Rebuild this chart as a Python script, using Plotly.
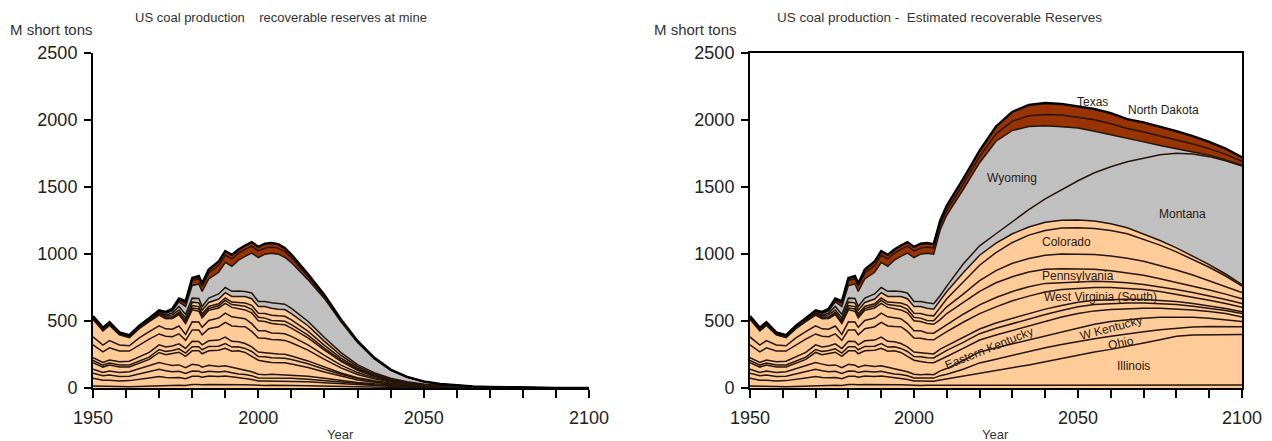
import plotly.graph_objects as go

W, H = 1272, 441

hist_years = [1950, 1953, 1955, 1958, 1961, 1964, 1967, 1970, 1972, 1974, 1976, 1978, 1980,
              1982, 1983, 1985, 1988, 1990, 1992, 1994, 1996, 1998, 2000, 2002, 2004, 2006]
proj_years = [2008, 2010, 2015, 2020, 2025, 2030, 2035, 2040, 2045, 2050,
              2055, 2060, 2065, 2070, 2075, 2080, 2085, 2090, 2095, 2100]

# ---- production history by state, M short tons (bottom of stack first) ----
alabama_hist = [15, 12, 13, 11, 10, 12, 14, 20, 18, 19, 21, 19, 26, 26, 24, 27, 27, 29, 26, 24, 24, 23, 19, 19, 21, 19]
illinois_hist = [57, 46, 45, 42, 45, 55, 60, 65, 60, 58, 57, 50, 62, 62, 57, 62, 58, 60, 58, 52, 47, 40, 33, 33, 31, 32]
ohio_hist = [38, 33, 38, 33, 32, 38, 44, 55, 50, 45, 46, 40, 39, 37, 34, 36, 34, 35, 30, 28, 29, 28, 22, 21, 23, 23]
wky_hist = [30, 25, 30, 30, 35, 40, 45, 50, 50, 45, 48, 42, 50, 45, 40, 45, 42, 42, 40, 38, 35, 30, 28, 25, 27, 25]
eky_hist = [48, 40, 45, 40, 35, 40, 50, 75, 70, 90, 95, 85, 100, 108, 100, 108, 120, 130, 120, 135, 130, 115, 105, 100, 88, 90]
indiana_hist = [18, 15, 16, 15, 15, 16, 17, 22, 25, 23, 25, 24, 30, 30, 30, 32, 31, 36, 31, 30, 30, 36, 28, 35, 35, 35]
virginia_hist = [20, 19, 22, 25, 28, 32, 35, 35, 33, 33, 37, 35, 41, 39, 37, 42, 45, 47, 43, 37, 37, 35, 33, 30, 31, 30]
wvs_hist = [95, 80, 90, 80, 75, 90, 100, 81, 80, 70, 75, 60, 85, 85, 75, 90, 100, 110, 115, 115, 125, 115, 105, 108, 105, 105]
wvn_hist = [60, 50, 55, 45, 40, 50, 55, 60, 55, 55, 58, 45, 60, 60, 55, 62, 65, 70, 68, 65, 60, 58, 53, 55, 50, 50]
penn_hist = [130, 105, 113, 75, 60, 70, 75, 80, 75, 80, 85, 80, 90, 80, 70, 75, 75, 72, 70, 65, 65, 80, 75, 70, 70, 66]
utah_hist = [6, 6, 6, 5, 5, 5, 5, 5, 5, 6, 8, 10, 13, 17, 14, 13, 16, 22, 21, 24, 27, 26, 27, 25, 22, 26]
colorado_hist = [4, 4, 4, 3, 3, 4, 5, 6, 6, 7, 9, 12, 19, 18, 17, 16, 15, 18, 19, 25, 25, 30, 29, 35, 40, 37]
nm_hist = [3, 3, 3, 3, 3, 4, 5, 8, 10, 14, 18, 20, 25, 28, 27, 30, 35, 40, 42, 45, 48, 50, 50, 52, 52, 50]
montana_hist = [3, 3, 2, 1, 1, 1, 1, 3, 8, 14, 26, 27, 30, 32, 28, 33, 38, 38, 38, 41, 38, 42, 38, 37, 40, 41]
wyoming_hist = [5, 5, 5, 4, 4, 4, 5, 7, 12, 16, 34, 58, 95, 108, 112, 142, 162, 187, 187, 229, 262, 298, 327, 353, 370, 369]
texas_hist = [1, 1, 1, 1, 1, 1, 1, 4, 5, 9, 15, 25, 37, 40, 40, 45, 50, 55, 55, 52, 52, 52, 50, 46, 46, 45]
nd_hist = [3, 3, 3, 2, 2, 3, 3, 4, 5, 7, 10, 15, 18, 20, 20, 25, 30, 30, 30, 28, 28, 30, 30, 32, 30, 30]

# ---- projection limited by recoverable reserves at mine ----
alabama_mine = [19, 18, 16, 13, 10, 7, 5, 3.5, 2.5, 1.6, 1, 0.7, 0.5, 0.3, 0.2, 0.1, 0.1, 0, 0, 0]
illinois_mine = [33, 33, 31, 27, 22, 17, 13, 10, 7, 5, 3.5, 2.5, 1.8, 1.3, 0.9, 0.6, 0.4, 0.3, 0.2, 0.1]
ohio_mine = [23, 22, 19, 15, 11, 8, 6, 4.2, 3, 2, 1.4, 0.9, 0.6, 0.4, 0.3, 0.2, 0.1, 0.1, 0, 0]
wky_mine = [25, 24, 21, 17, 13, 9.5, 7, 4.8, 3.3, 2.2, 1.5, 1, 0.6, 0.4, 0.3, 0.2, 0.1, 0.1, 0, 0]
eky_mine = [88, 82, 66, 47, 31, 19, 11.5, 6.5, 3.8, 2.2, 1.3, 0.8, 0.5, 0.3, 0.2, 0.1, 0.1, 0, 0, 0]
indiana_mine = [34, 33, 28, 21, 15, 10.5, 7, 4.4, 2.8, 1.8, 1.2, 0.8, 0.5, 0.3, 0.2, 0.1, 0.1, 0, 0, 0]
virginia_mine = [29, 27, 21, 15, 10, 6, 3.8, 2.3, 1.4, 0.8, 0.5, 0.3, 0.2, 0.1, 0.1, 0, 0, 0, 0, 0]
wvs_mine = [104, 98, 80, 58, 38, 24, 15, 8.8, 5.3, 3.1, 1.8, 1.1, 0.7, 0.4, 0.3, 0.2, 0.1, 0, 0, 0]
wvn_mine = [50, 48, 40, 30, 21, 14, 9, 5.6, 3.5, 2.2, 1.3, 0.8, 0.5, 0.3, 0.2, 0.1, 0.1, 0, 0, 0]
penn_mine = [66, 62, 52, 39, 27, 17, 11, 6.5, 4, 2.4, 1.4, 0.9, 0.6, 0.4, 0.2, 0.1, 0.1, 0, 0, 0]
utah_mine = [26, 25, 20, 14, 9.5, 6, 3.7, 2.2, 1.3, 0.8, 0.5, 0.3, 0.2, 0.1, 0.1, 0, 0, 0, 0, 0]
colorado_mine = [38, 36, 30, 22, 15, 9.5, 5.7, 3.4, 2, 1.2, 0.7, 0.4, 0.3, 0.2, 0.1, 0.1, 0, 0, 0, 0]
nm_mine = [50, 47, 40, 30, 20, 13, 8, 4.8, 2.9, 1.8, 1.1, 0.6, 0.4, 0.3, 0.2, 0.1, 0.1, 0, 0, 0]
montana_mine = [40, 38, 34, 28, 21, 14, 9, 5.5, 3.3, 2, 1.2, 0.8, 0.5, 0.3, 0.2, 0.1, 0.1, 0, 0, 0]
wyoming_mine = [350, 342, 310, 290, 230, 165, 104, 60, 34, 18, 10, 6, 3.5, 2.2, 1.3, 0.8, 0.5, 0.3, 0.1, 0.05]
texas_mine = [42, 36, 25, 17, 11, 7, 5, 3, 1.8, 1.2, 0.8, 0.6, 0.4, 0.2, 0.2, 0.1, 0.1, 0, 0, 0]
nd_mine = [28, 24, 17, 11, 7, 5, 3, 2, 1.2, 0.8, 0.6, 0.4, 0.2, 0.2, 0.1, 0.1, 0, 0, 0, 0]

# ---- projection limited by estimated recoverable reserves ----
alabama_est = [20, 20, 21, 21, 22, 22, 22, 22, 22, 22, 22, 22, 22, 22, 22, 22, 22, 22, 22, 22]
illinois_est = [40, 48, 67, 91, 108, 128, 150, 173, 198, 223, 246, 266, 288, 313, 338, 363, 374, 376, 376, 376]
ohio_est = [32, 34, 52, 75, 85, 95, 100, 105, 105, 103, 100, 97, 95, 85, 75, 62, 59, 60, 60, 58]
wky_est = [36, 43, 65, 82, 85, 85, 88, 90, 95, 102, 107, 110, 105, 100, 92, 83, 73, 62, 50, 39]
eky_est = [87, 90, 90, 89, 95, 100, 105, 110, 110, 105, 100, 90, 82, 75, 67, 60, 54, 50, 47, 35]
indiana_est = [40, 45, 45, 47, 50, 50, 50, 48, 48, 50, 47, 45, 42, 39, 36, 32, 28, 26, 23, 25]
virginia_est = [35, 35, 40, 35, 40, 40, 40, 40, 37, 35, 33, 30, 28, 26, 25, 23, 20, 16, 14, 13]
wvs_est = [100, 105, 110, 115, 120, 130, 130, 127, 120, 105, 95, 90, 83, 75, 65, 55, 48, 43, 38, 34]
wvn_est = [50, 55, 60, 65, 70, 70, 70, 65, 50, 45, 45, 42, 40, 37, 35, 35, 34, 32, 30, 28]
penn_est = [70, 80, 90, 100, 110, 110, 110, 105, 105, 100, 90, 83, 75, 68, 60, 53, 48, 43, 40, 35]
utah_est = [40, 50, 60, 80, 90, 100, 100, 105, 110, 110, 110, 110, 108, 105, 100, 92, 82, 70, 57, 47]
colorado_est = [50, 60, 90, 115, 135, 155, 175, 185, 193, 195, 195, 190, 182, 165, 150, 135, 118, 100, 78, 48]
nm_est = [50, 55, 70, 75, 70, 65, 60, 60, 57, 57, 55, 50, 45, 40, 35, 30, 25, 20, 15, 10]
montana_est = [40, 40, 65, 70, 70, 90, 130, 175, 230, 293, 360, 425, 492, 565, 639, 705, 760, 805, 845, 885]
wyoming_est = [490, 530, 555, 620, 690, 680, 620, 545, 468, 393, 310, 240, 176, 120, 69, 35, 17, 10, 5, 5]
texas_est = [35, 35, 40, 45, 55, 70, 80, 85, 87, 82, 85, 80, 72, 73, 72, 65, 58, 50, 42, 30]
nd_est = [35, 35, 40, 45, 55, 70, 80, 85, 83, 80, 80, 80, 70, 72, 70, 65, 58, 50, 43, 30]

PEACH, GREY, BROWN = "#FFCC99", "#C0C0C0", "#993300"
EDGE = "#24140a"

layers = [
    ("Alabama", alabama_hist, alabama_mine, alabama_est, PEACH),
    ("Illinois", illinois_hist, illinois_mine, illinois_est, PEACH),
    ("Ohio", ohio_hist, ohio_mine, ohio_est, PEACH),
    ("W Kentucky", wky_hist, wky_mine, wky_est, PEACH),
    ("Eastern Kentucky", eky_hist, eky_mine, eky_est, PEACH),
    ("Indiana", indiana_hist, indiana_mine, indiana_est, PEACH),
    ("Virginia", virginia_hist, virginia_mine, virginia_est, PEACH),
    ("West Virginia (South)", wvs_hist, wvs_mine, wvs_est, PEACH),
    ("West Virginia (North)", wvn_hist, wvn_mine, wvn_est, PEACH),
    ("Pennsylvania", penn_hist, penn_mine, penn_est, PEACH),
    ("Utah", utah_hist, utah_mine, utah_est, PEACH),
    ("Colorado", colorado_hist, colorado_mine, colorado_est, PEACH),
    ("New Mexico", nm_hist, nm_mine, nm_est, PEACH),
    ("Montana", montana_hist, montana_mine, montana_est, GREY),
    ("Wyoming", wyoming_hist, wyoming_mine, wyoming_est, GREY),
    ("Texas", texas_hist, texas_mine, texas_est, BROWN),
    ("North Dakota", nd_hist, nd_mine, nd_est, BROWN),
]

years = hist_years + proj_years
fig = go.Figure()
for panel, (xa, ya, grp) in enumerate([("x", "y", "mine"), ("x2", "y2", "est")]):
    for i, (name, hist, mine, est, color) in enumerate(layers):
        proj = mine if panel == 0 else est
        top = i == len(layers) - 1
        fig.add_trace(go.Scatter(
            x=years, y=hist + proj, name=name, xaxis=xa, yaxis=ya,
            stackgroup=grp, mode="lines", fillcolor=color,
            line=dict(color="#000000" if top else EDGE, width=2.4 if top else 1.5),
            showlegend=False, hoverinfo="skip",
        ))

FONT = "Arial, Liberation Sans, sans-serif"
L_DOM = [93 / W, 589 / W]
R_DOM = [750 / W, 1242 / W]
Y_DOM = [1 - 388 / H, 1 - 52.7 / H]

def xaxis(dom, anchor):
    return dict(domain=dom, anchor=anchor, range=[1950, 2100], tick0=1950, dtick=50,
                ticks="outside", ticklen=8, tickwidth=1.5, tickcolor="black",
                showline=True, linecolor="black", linewidth=2, showgrid=False, zeroline=False,
                automargin=False,
                tickfont=dict(family=FONT, size=18, color="#222"), ticklabelstandoff=4,
                minor=dict(tick0=1950, dtick=10, ticks="outside", ticklen=8, tickwidth=1.5,
                           tickcolor="black", showgrid=False))

def yaxis(anchor):
    return dict(domain=Y_DOM, anchor=anchor, range=[0, 2500], tick0=0, dtick=500,
                ticks="outside", ticklen=7, tickwidth=1.5, tickcolor="black",
                showline=True, linecolor="black", linewidth=2, showgrid=False, zeroline=False,
                automargin=False,
                tickfont=dict(family=FONT, size=18, color="#222"), ticklabelstandoff=3)

def grid(over, anchor, vals):
    return dict(domain=Y_DOM, anchor=anchor, overlaying=over, range=[0, 2500],
                tickvals=vals, showticklabels=False, ticks="", showgrid=True,
                gridcolor="#1a1a1a", gridwidth=1.6, showline=False, zeroline=False)

fig.update_layout(
    width=W, height=H, margin=dict(l=0, r=0, t=0, b=0, autoexpand=False),
    paper_bgcolor="white", plot_bgcolor="white", showlegend=False,
    xaxis=xaxis(L_DOM, "y"), yaxis=yaxis("x"),
    xaxis2=xaxis(R_DOM, "y2"), yaxis2=yaxis("x2"),
    yaxis3=grid("y", "x", [1000, 2000, 2500]),
    yaxis4=grid("y2", "x2", [1000, 1500, 2000, 2500]),
)
fig.update_layout(xaxis2=dict(mirror=True), yaxis2=dict(mirror=True))

def note(text, x, y, size=12, **kw):
    fig.add_annotation(text=text, x=x, y=y, xref="paper", yref="paper", showarrow=False,
                       font=dict(family=FONT, size=size, color="#333"), **kw)

note("M short tons", 8 / W, 1 - 30 / H, size=15, xanchor="left", yanchor="middle")
note("US coal production    recoverable reserves at mine", 133 / W, 1 - 17 / H,
     size=13, xanchor="left", yanchor="middle")
note("M short tons", 652 / W, 1 - 30 / H, size=15, xanchor="left", yanchor="middle")
note("US coal production -  Estimated recoverable Reserves", 775 / W, 1 - 17 / H,
     size=13.5, xanchor="left", yanchor="middle")
note("Year", (L_DOM[0] + L_DOM[1]) / 2, 1 - 434 / H, size=13, xanchor="center", yanchor="middle")
note("Year", (R_DOM[0] + R_DOM[1]) / 2, 1 - 434 / H, size=13, xanchor="center", yanchor="middle")

# state names inside the reserve-based panel
state_labels = [
    ("Texas", 2054.5, 2134, 0),
    ("North Dakota", 2076, 2075, 0),
    ("Wyoming", 2030, 1567, 0),
    ("Montana", 2082, 1298, 0),
    ("Colorado", 2046.5, 1090, 0),
    ("Pennsylvania", 2050, 836, 0),
    ("West Virginia (South)", 2057, 680, 0),
    ("W Kentucky", 2060, 448, -15),
    ("Ohio", 2063, 336, -12),
    ("Illinois", 2067, 164, 0),
    ("Eastern Kentucky", 2023, 300, -22),
]
for text, xv, yv, ang in state_labels:
    fig.add_annotation(text=text, x=xv, y=yv, xref="x2", yref="y2", showarrow=False,
                       textangle=ang, font=dict(family=FONT, size=12, color="#2a1a10"))

fig.write_html("out.html")
